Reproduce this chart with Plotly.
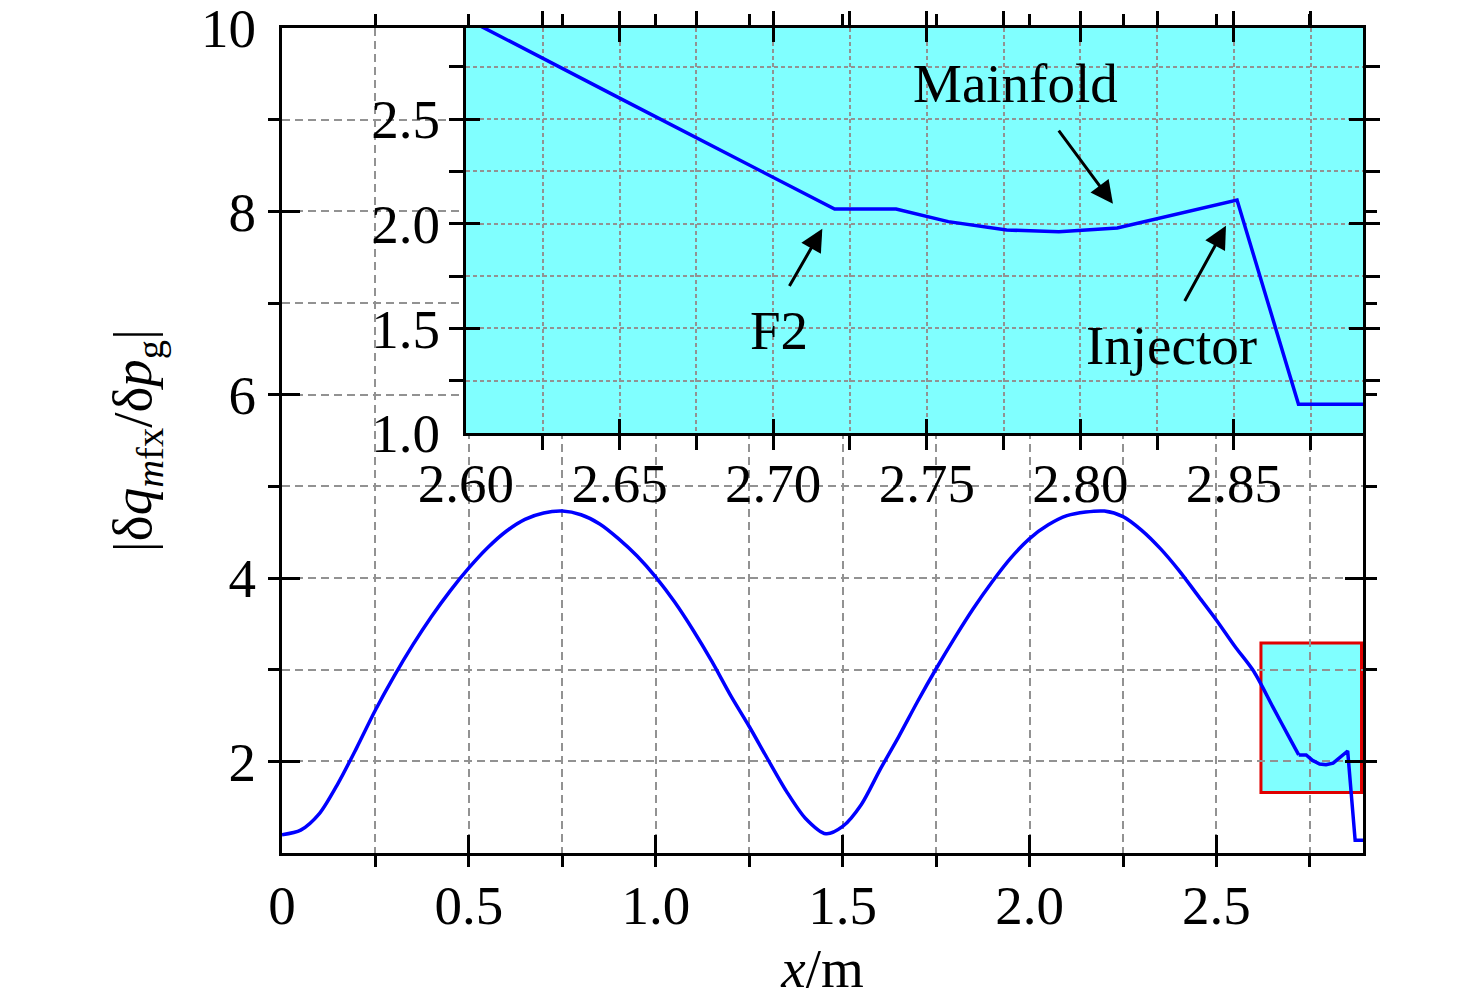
import plotly.graph_objects as go

# curve (x in m, ratio)
x_pos = [0.00, 0.05, 0.10, 0.15, 0.20, 0.25, 0.30, 0.35, 0.40, 0.45,
         0.50, 0.55, 0.60, 0.65, 0.70, 0.75, 0.80, 0.85, 0.90, 0.95,
         1.00, 1.05, 1.10, 1.15, 1.20, 1.25, 1.30, 1.35, 1.40, 1.455,
         1.50, 1.55, 1.60, 1.65, 1.70, 1.75, 1.80, 1.85, 1.90, 1.95,
         2.00, 2.05, 2.10, 2.15, 2.20, 2.25, 2.30, 2.35, 2.40, 2.45,
         2.50, 2.55, 2.60, 2.65, 2.70, 2.720, 2.740, 2.757, 2.776, 2.793,
         2.812, 2.851, 2.871, 2.892]
ratio = [1.20, 1.25, 1.43, 1.76, 2.15, 2.56, 2.93, 3.27, 3.58, 3.86,
         4.11, 4.33, 4.51, 4.64, 4.71, 4.73, 4.69, 4.59, 4.43, 4.24,
         4.01, 3.74, 3.43, 3.09, 2.72, 2.38, 2.02, 1.67, 1.38, 1.21,
         1.29, 1.53, 1.91, 2.27, 2.65, 3.01, 3.35, 3.67, 3.96, 4.22,
         4.43, 4.58, 4.68, 4.72, 4.73, 4.67, 4.52, 4.32, 4.08, 3.81,
         3.54, 3.25, 2.98, 2.60, 2.22, 2.07, 2.07, 2.01, 1.97, 1.962,
         1.98, 2.113, 1.138, 1.138]
n_smooth = 56  # points up to x = 2.72 form the smooth wave

main_xticks = [0, 0.5, 1.0, 1.5, 2.0, 2.5]
main_xlabels = ['0', '0.5', '1.0', '1.5', '2.0', '2.5']
main_yticks = [2, 4, 6, 8, 10]

inset_xticks = [2.60, 2.65, 2.70, 2.75, 2.80, 2.85]
inset_yticks = [1.0, 1.5, 2.0, 2.5]

# labels in the inset: text, text position, arrow tail, arrow tip
notes = ['Mainfold', 'F2', 'Injector']
note_x = [2.779, 2.702, 2.8295]
note_y = [2.671, 1.490, 1.419]
tail_x = [2.7926, 2.705, 2.8337]
tail_y = [2.452, 1.695, 1.624]
tip_x = [2.8106, 2.716, 2.8474]
tip_y = [2.095, 1.976, 1.990]

FONT = 'Liberation Serif'
FS = 55
CYAN = '#80FFFF'
GRID = '#929292'
BLUE = '#0000FF'

fig = go.Figure()

fig.add_trace(go.Scatter(x=x_pos[:n_smooth], y=ratio[:n_smooth], mode='lines',
                         line=dict(color=BLUE, width=3.5, shape='spline', smoothing=0.8),
                         xaxis='x', yaxis='y', showlegend=False))
fig.add_trace(go.Scatter(x=x_pos[n_smooth - 1:], y=ratio[n_smooth - 1:], mode='lines',
                         line=dict(color=BLUE, width=3.5),
                         xaxis='x', yaxis='y', showlegend=False))
fig.add_trace(go.Scatter(x=x_pos, y=ratio, mode='lines',
                         line=dict(color=BLUE, width=3.5),
                         xaxis='x2', yaxis='y2', showlegend=False))

# zoom box on the main plot
fig.add_shape(type='rect', xref='x', yref='y', x0=2.619, x1=2.888, y0=1.66, y1=3.29,
              fillcolor=CYAN, line=dict(color='#E00000', width=3), layer='below')
# inset background
fig.add_shape(type='rect', xref='x2', yref='y2', x0=2.60, x1=2.892, y0=1.0, y1=2.935,
              fillcolor=CYAN, line=dict(width=0), layer='below')

for i in range(len(notes)):
    fig.add_annotation(x=note_x[i], y=note_y[i], xref='x2', yref='y2', text=notes[i],
                       showarrow=False, font=dict(family=FONT, size=FS, color='black'))
    fig.add_annotation(x=tip_x[i], y=tip_y[i], xref='x2', yref='y2',
                       ax=tail_x[i], ay=tail_y[i], axref='x2', ayref='y2', text='',
                       showarrow=True, arrowhead=2, arrowsize=1.5, arrowwidth=3,
                       arrowcolor='black')

axis_common = dict(showline=True, linecolor='black', linewidth=3, mirror='ticks',
                   ticks='inside', tickwidth=3, tickcolor='black', zeroline=False,
                   ticklabeloverflow='allow', automargin=False,
                   tickfont=dict(family=FONT, size=FS, color='black'))

fig.update_layout(
    width=1476, height=1007,
    margin=dict(l=274, r=121, t=20, b=162),
    paper_bgcolor='white', plot_bgcolor='white',
    font=dict(family=FONT, size=FS, color='black'),
    xaxis=dict(axis_common, range=[0, 2.892], tickvals=main_xticks, ticktext=main_xlabels,
               ticklen=18, showgrid=True, gridcolor=GRID, gridwidth=2, griddash='8px,5px',
               ticklabelstandoff=2,
               minor=dict(tick0=0, dtick=0.25, ticklen=11, tickwidth=3, tickcolor='black',
                          showgrid=True, gridcolor=GRID, gridwidth=2, griddash='8px,5px'),
               title=dict(text='<i>x</i>/m', font=dict(family=FONT, size=FS), standoff=14),
               domain=[0, 1]),
    yaxis=dict(axis_common, range=[1, 10], tickvals=main_yticks,
               ticklen=18, showgrid=True, gridcolor=GRID, gridwidth=2, griddash='8px,5px',
               ticklabelstandoff=12,
               minor=dict(tick0=0, dtick=1, ticklen=11, tickwidth=3, tickcolor='black',
                          showgrid=True, gridcolor=GRID, gridwidth=2, griddash='8px,5px'),
               title=dict(text='|δ<i>q</i><sub><i>m</i>fx</sub>/δ<i>p</i><sub>g</sub>|',
                          font=dict(family=FONT, size=FS), standoff=32),
               domain=[0, 1]),
    xaxis2=dict(axis_common, range=[2.60, 2.892], tickvals=inset_xticks, tickformat='.2f',
                anchor='y2', domain=[0.1702, 1], ticklen=14,
                showgrid=True, gridcolor=GRID, gridwidth=2, griddash='4px,3px',
                minor=dict(tick0=2.6, dtick=0.025, ticklen=14, tickwidth=3, tickcolor='black',
                           showgrid=True, gridcolor=GRID, gridwidth=2, griddash='4px,3px')),
    yaxis2=dict(axis_common, range=[1.0, 2.935], tickvals=inset_yticks, tickformat='.1f',
                anchor='x2', domain=[0.509, 1], ticklen=14, ticklabelstandoff=12,
                showgrid=True, gridcolor=GRID, gridwidth=2, griddash='4px,3px',
                minor=dict(tick0=1.0, dtick=0.25, ticklen=14, tickwidth=3, tickcolor='black',
                           showgrid=True, gridcolor=GRID, gridwidth=2, griddash='4px,3px')),
)

fig.write_html('out.html')
